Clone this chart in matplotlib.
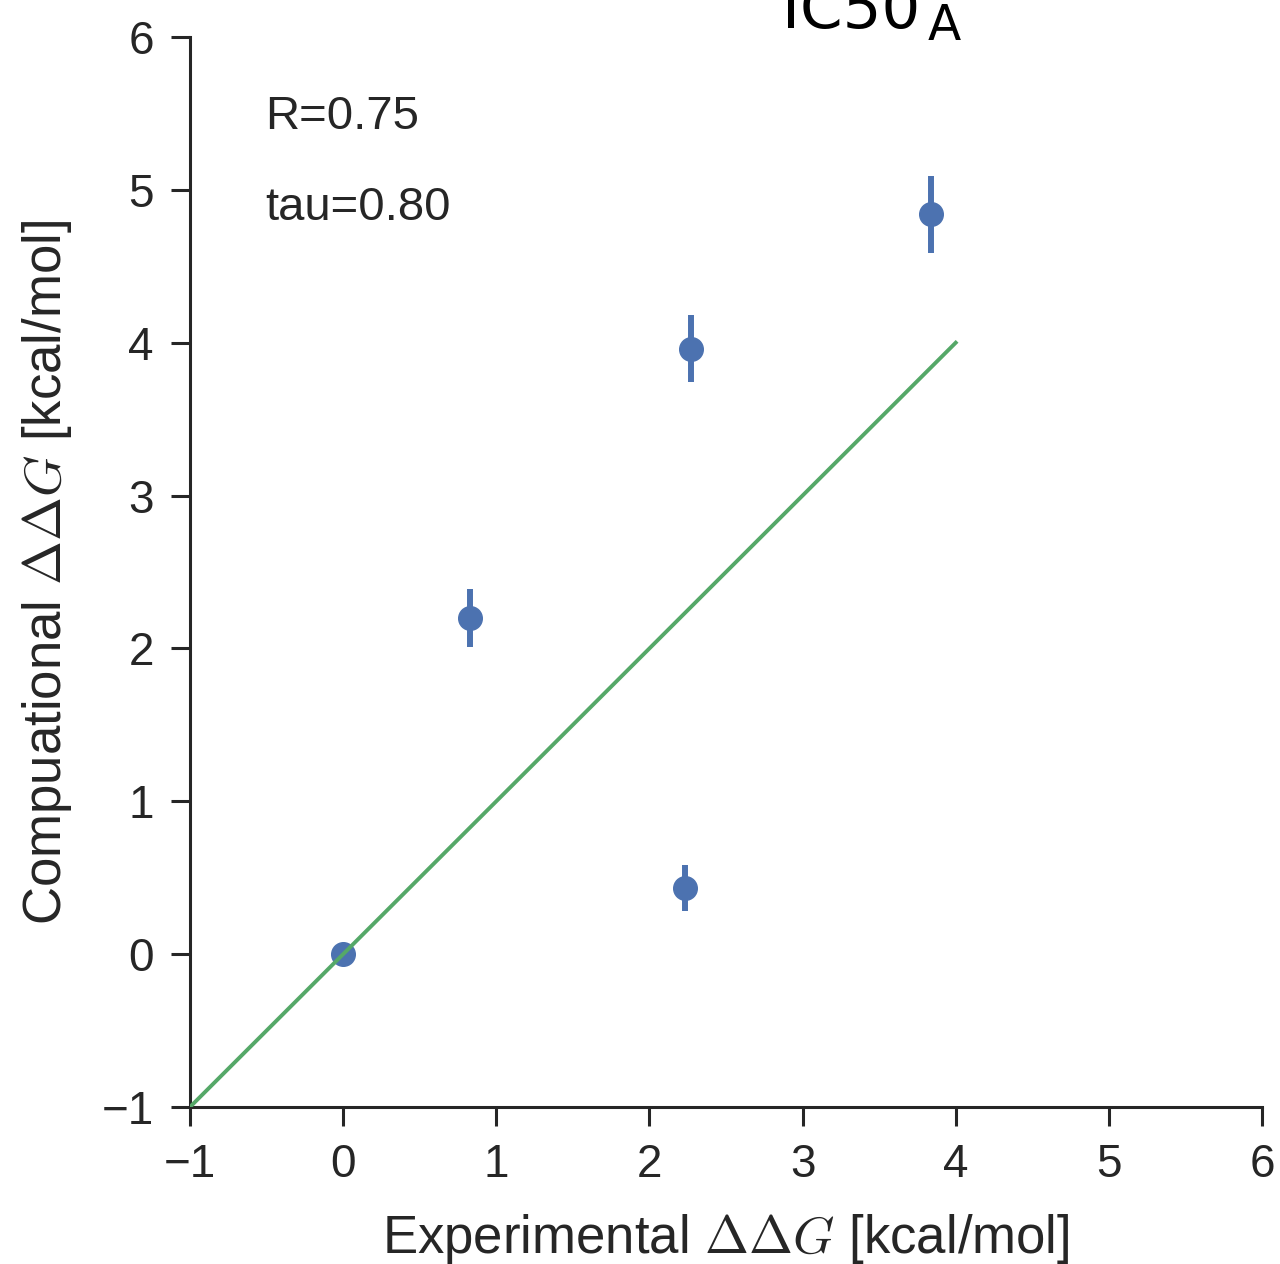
import matplotlib
matplotlib.use("Agg")
import matplotlib.pyplot as plt
import numpy as np

# Experimental vs computational ddG values (kcal/mol)
exp_ddg = [0.00, 0.83, 2.27, 2.23, 3.84]
comp_ddg = [0.00, 2.20, 3.96, 0.43, 4.84]
comp_err = [0.00, 0.19, 0.22, 0.15, 0.25]
diag_x = [-1, 4]
stats_text = ["R=0.75", "tau=0.80"]
stats_y = [5.40, 4.80]
ticks = [-1, 0, 1, 2, 3, 4, 5, 6]

plt.rcParams["font.family"] = ["Liberation Sans", "DejaVu Sans"]
plt.rcParams["mathtext.fontset"] = "cm"
plt.rcParams["axes.unicode_minus"] = True

ink = "#262626"
blue = "#4C72B0"
green = "#55A868"

fig = plt.figure(figsize=(12.8, 12.64), dpi=100)
ax = fig.add_axes([190 / 1280, 1 - 1107 / 1264, (1262 - 190) / 1280, (1107 - 37) / 1264])

ax.errorbar(exp_ddg, comp_ddg, yerr=comp_err, fmt="o", color=blue,
            markersize=17, elinewidth=4.3, capsize=0, zorder=2)
ax.plot(diag_x, diag_x, color=green, linewidth=2.8, zorder=3)

for txt, ty in zip(stats_text, stats_y):
    ax.text(-0.51, ty, txt, fontsize=34, color=ink, va="baseline", ha="left")

ax.set_xlim(-1, 6)
ax.set_ylim(-1, 6)
ax.set_xticks(ticks)
ax.set_yticks(ticks)

for side in ("top", "right"):
    ax.spines[side].set_visible(False)
for side in ("left", "bottom"):
    ax.spines[side].set_linewidth(2.2)
    ax.spines[side].set_color(ink)

ax.tick_params(axis="both", direction="out", length=14, width=2.2, color=ink,
               labelsize=33, labelcolor=ink, pad=12)

ax.set_xlabel(r"Experimental $\Delta\Delta G$ [kcal/mol]", fontsize=38, color=ink, labelpad=18)
ax.set_ylabel(r"Compuational $\Delta\Delta G$ [kcal/mol]", fontsize=38, color=ink, labelpad=20)

# Panel title with subscript
fig.text(782 / 1280, 1 - 28 / 1264, "IC50", fontsize=44, family="DejaVu Sans",
         color="black", ha="left", va="baseline")
fig.text(928 / 1280, 1 - 40 / 1264, "A", fontsize=35, family="DejaVu Sans",
         color="black", ha="left", va="baseline")

fig.savefig("out.png", dpi=100)
